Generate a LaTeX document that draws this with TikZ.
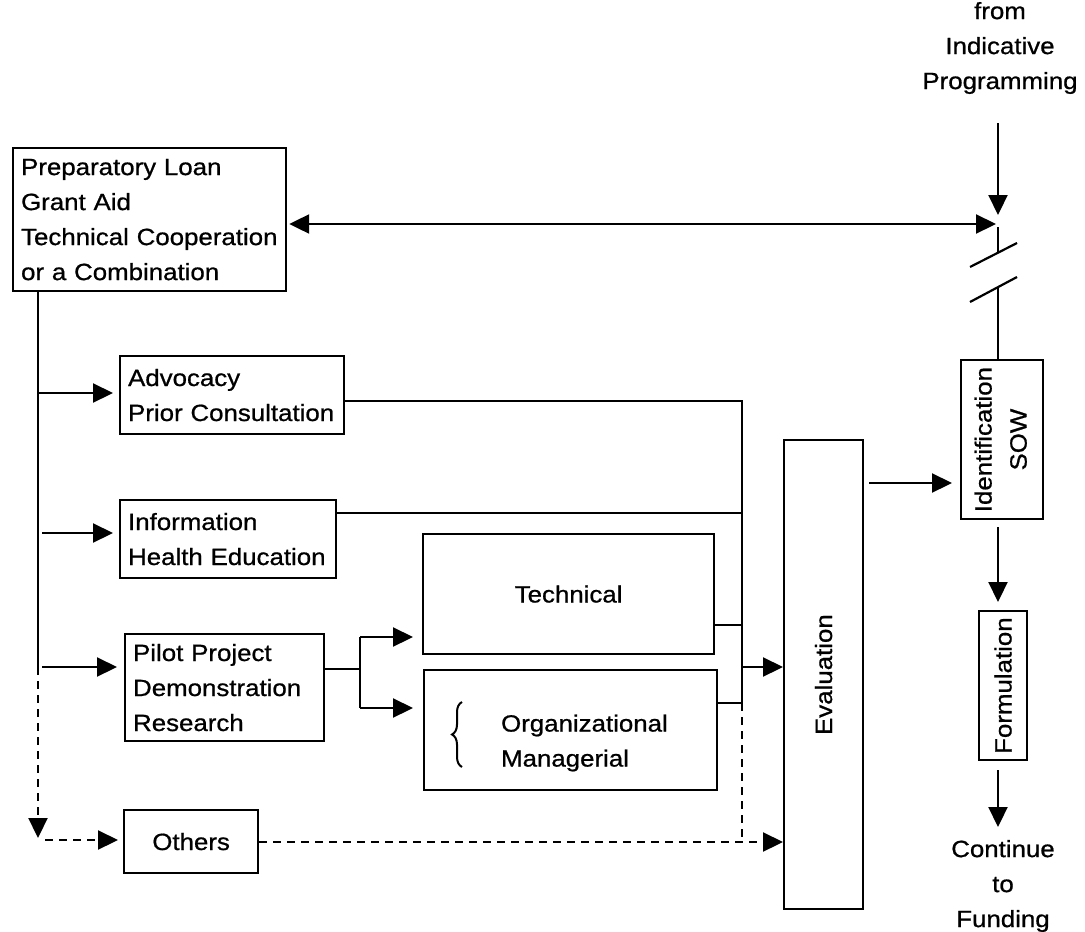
\documentclass[tikz,border=0pt]{standalone}
\usepackage{fontspec}
\setmainfont{Liberation Sans}[FakeStretch=1.1,FakeBold=0.8]
\usetikzlibrary{arrows.meta,decorations.pathreplacing}
\newcommand\diagfont{\fontsize{23.5}{35}\selectfont}

\begin{document}
\begin{tikzpicture}[x=1pt,y=-1pt,
  line width=2.2pt,
  every node/.style={font=\diagfont},
  box/.style={draw, anchor=north west, inner xsep=8pt, inner ysep=0pt},
  txtbox/.style={box, align=left},
  vbox/.style={draw, anchor=north west, inner sep=0pt},
  lbl/.style={align=center, inner sep=0pt},
  arr/.style={-{Triangle[length=20pt,width=19pt]}},
  dblarr/.style={{Triangle[length=20pt,width=19pt]}-{Triangle[length=20pt,width=19pt]}},
  dsh/.style={dash pattern=on 8pt off 6pt},
  bracepen/.style={line width=2pt, decorate, decoration={brace, amplitude=10pt}}
]
\useasboundingbox (0,0) rectangle (1085,932);

% ---------- boxes ----------
\node[txtbox, minimum width=273pt, minimum height=143pt, text width=257pt] (prep) at (12,147)
  {Preparatory Loan\\Grant Aid\\Technical Cooperation\\or a Combination};
\node[txtbox, minimum width=224pt, minimum height=78pt, text width=208pt] (adv) at (119,355)
  {Advocacy\\Prior Consultation};
\node[txtbox, minimum width=216pt, minimum height=78pt, text width=200pt] (info) at (119,499)
  {Information\\Health Education};
\node[txtbox, minimum width=199pt, minimum height=107pt, text width=183pt] (pilot) at (124,633)
  {Pilot Project\\Demonstration\\Research};
\node[box, minimum width=134pt, minimum height=63pt] (others) at (123,809) {Others};
\node[box, minimum width=291pt, minimum height=120pt] (tech) at (422,533) {Technical};
\node[box, minimum width=293pt, minimum height=120pt] (org) at (423,669) {};
\node[anchor=west, align=left, inner sep=0pt] (orglbl) at (500,743) {Organizational\\Managerial};
\node[vbox, minimum width=79pt, minimum height=469pt] (eval) at (783,439) {\rotatebox{90}{Evaluation}};
\node[vbox, minimum width=82pt, minimum height=159pt] (ident) at (960,359)
  {\rotatebox{90}{\begin{tabular}{@{}c@{}}Identification\\SOW\end{tabular}}};
\node[vbox, minimum width=48pt, minimum height=149pt] (form) at (978,610) {\rotatebox{90}{Formulation}};

% ---------- free labels ----------
\node[lbl] (fromlbl) at (1000,48) {from\\Indicative\\Programming};
\node[lbl] (contlbl) at (1003,886) {Continue\\to\\Funding};

% ---------- bracket in the organizational box ----------
\coordinate (brB) at (462,767);
\coordinate (brT) at (462,702);
\draw[bracepen] (brB) -- (brT);

% ---------- junction points ----------
\coordinate (jA) at (38,393);
\coordinate (jI) at (42,533);
\coordinate (jP) at (38,667);
\coordinate (jPs) at (42,667);
\coordinate (jEnd) at (38,838);
\coordinate (jO) at (45,840);

\coordinate (inTop) at (998,123);
\coordinate (inTip) at (998,215);
\coordinate (dblR) at (996,224);
\coordinate (brkA) at (998,227);
\coordinate (brkB) at (998,252);
\coordinate (brkC) at (998,287);
\coordinate (s1a) at (970,267);
\coordinate (s1b) at (1017,243);
\coordinate (s2a) at (970,302);
\coordinate (s2b) at (1017,277);
\coordinate (eiY) at (900,483);
\coordinate (contTip) at (998,827);

\coordinate (busTop) at (742,401);
\coordinate (busI) at (742,513);
\coordinate (busT) at (742,625);
\coordinate (busE) at (742,667);
\coordinate (busLow) at (742,703);
\coordinate (busEnd) at (742,842);

\coordinate (pSplit) at (360,669);
\coordinate (pUp) at (360,637);
\coordinate (pDn) at (360,708);

% ---------- left trunk and branches ----------
\draw (prep.south -| jA) -- (jP);
\draw[dsh, arr] (jP) -- (jEnd);
\draw[arr, shorten >=6pt] (jA) -- (adv.west |- jA);
\draw[arr, shorten >=6pt] (jI) -- (info.west |- jI);
\draw[arr, shorten >=7pt] (jPs) -- (pilot.west |- jPs);
\draw[dsh, arr, shorten >=5pt] (jO) -- (others.west |- jO);

% ---------- pilot split ----------
\draw (pilot.east |- pSplit) -- (pSplit);
\draw (pUp) -- (pDn);
\draw[arr, shorten >=9pt] (pUp) -- (tech.west |- pUp);
\draw[arr, shorten >=10pt] (pDn) -- (org.west |- pDn);

% ---------- collector bus into evaluation ----------
\draw (adv.east |- busTop) -- (busTop) -- (busLow);
\draw (info.east |- busI) -- (busI);
\draw (tech.east |- busT) -- (busT);
\draw (org.east |- busLow) -- (busLow);
\draw[arr] (busE) -- (eval.west |- busE);
\draw[dsh] (busLow) -- (busEnd);
\draw[dsh, arr] (others.east |- busEnd) -- (eval.west |- busEnd);

% ---------- right column ----------
\draw[arr] (inTop) -- (inTip);
\draw[dblarr, shorten <=2pt] (prep.east |- dblR) -- (dblR);
\draw (brkA) -- (brkB);
\draw (brkC) -- (ident.north -| brkC);
\draw (s1a) -- (s1b);
\draw (s2a) -- (s2b);
\draw[arr, shorten <=5pt, shorten >=8pt] (eval.east |- eiY) -- (ident.west |- eiY);
\draw[arr, shorten <=7pt, shorten >=8pt] (ident.south -| brkA) -- (form.north -| brkA);
\draw[arr, shorten <=9pt] (form.south -| brkA) -- (contTip);

\end{tikzpicture}
\end{document}
